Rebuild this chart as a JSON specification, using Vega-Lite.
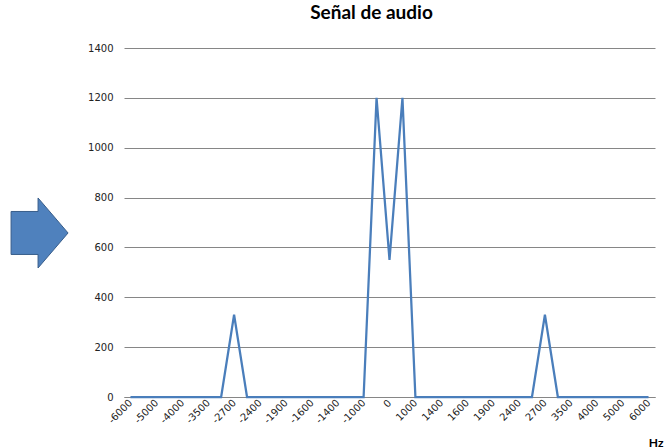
{
  "$schema": "https://vega.github.io/schema/vega-lite/v6.json",
  "width": 531,
  "height": 349,
  "autosize": {"type": "none"},
  "padding": {"left": 124, "top": 48, "right": 11, "bottom": 51},
  "background": "white",
  "config": {"view": {"stroke": null}},
  "title": {
    "text": "Señal de audio",
    "font": "Lato",
    "fontSize": 19,
    "fontWeight": "bold",
    "color": "#000000",
    "anchor": "middle",
    "dx": -18,
    "offset": 20
  },
  "datasets": {
    "signal": [
      {"i": 0, "amp": 0}, {"i": 1, "amp": 0}, {"i": 2, "amp": 0}, {"i": 3, "amp": 0},
      {"i": 4, "amp": 0}, {"i": 5, "amp": 0}, {"i": 6, "amp": 0}, {"i": 7, "amp": 0},
      {"i": 8, "amp": 330}, {"i": 9, "amp": 0}, {"i": 10, "amp": 0}, {"i": 11, "amp": 0},
      {"i": 12, "amp": 0}, {"i": 13, "amp": 0}, {"i": 14, "amp": 0}, {"i": 15, "amp": 0},
      {"i": 16, "amp": 0}, {"i": 17, "amp": 0}, {"i": 18, "amp": 0}, {"i": 19, "amp": 1200},
      {"i": 20, "amp": 550}, {"i": 21, "amp": 1200}, {"i": 22, "amp": 0}, {"i": 23, "amp": 0},
      {"i": 24, "amp": 0}, {"i": 25, "amp": 0}, {"i": 26, "amp": 0}, {"i": 27, "amp": 0},
      {"i": 28, "amp": 0}, {"i": 29, "amp": 0}, {"i": 30, "amp": 0}, {"i": 31, "amp": 0},
      {"i": 32, "amp": 330}, {"i": 33, "amp": 0}, {"i": 34, "amp": 0}, {"i": 35, "amp": 0},
      {"i": 36, "amp": 0}, {"i": 37, "amp": 0}, {"i": 38, "amp": 0}, {"i": 39, "amp": 0},
      {"i": 40, "amp": 0}
    ],
    "arrow": [{"i": -7.02, "amp": 658}]
  },
  "layer": [
    {
      "data": {"name": "signal"},
      "mark": {"type": "line", "color": "#4A7EBB", "strokeWidth": 2.25, "clip": false},
      "encoding": {
        "x": {
          "field": "i",
          "type": "quantitative",
          "scale": {"domain": [-0.5, 40.5], "nice": false, "zero": false},
          "axis": {
            "values": [0, 2, 4, 6, 8, 10, 12, 14, 16, 18, 20, 22, 24, 26, 28, 30, 32, 34, 36, 38, 40],
            "tickCount": 60,
            "labelExpr": "['-6000','-5000','-4000','-3500','-2700','-2400','-1900','-1600','-1400','-1000','0','1000','1400','1600','1900','2400','2700','3500','4000','5000','6000'][round(datum.value/2)]",
            "labelAngle": -45,
            "labelAlign": "right",
            "labelBaseline": "middle",
            "labelFont": "DejaVu Sans",
            "labelFontSize": 10,
            "labelColor": "#222222",
            "labelPadding": 4,
            "labelOverlap": false,
            "labelBound": false,
            "labelFlush": false,
            "grid": false,
            "ticks": false,
            "domain": true,
            "domainColor": "#868686",
            "domainWidth": 1,
            "title": "Hz",
            "titleFont": "Lato",
            "titleFontSize": 12,
            "titleFontWeight": "bold",
            "titleColor": "#000000",
            "titleAngle": 0,
            "titleAlign": "right",
            "titleBaseline": "alphabetic",
            "titleX": 539,
            "titleY": 49
          }
        },
        "y": {
          "field": "amp",
          "type": "quantitative",
          "scale": {"domain": [0, 1400], "nice": false},
          "axis": {
            "values": [0, 200, 400, 600, 800, 1000, 1200, 1400],
            "tickCount": 20,
            "format": "d",
            "labelFont": "DejaVu Sans",
            "labelFontSize": 10,
            "labelColor": "#222222",
            "labelPadding": 11,
            "ticks": false,
            "domain": false,
            "grid": true,
            "gridColor": "#868686",
            "gridWidth": 1,
            "gridOpacity": 1,
            "title": null
          }
        }
      }
    },
    {
      "data": {"name": "arrow"},
      "mark": {
        "type": "point",
        "shape": "M-0.814,-0.614 L-0.043,-0.614 L-0.043,-1 L0.814,0 L-0.043,1 L-0.043,0.614 L-0.814,0.614 Z",
        "filled": true,
        "fill": "#4F81BD",
        "stroke": "#385D8A",
        "strokeWidth": 1,
        "opacity": 1,
        "size": 4900,
        "clip": false
      },
      "encoding": {
        "x": {"field": "i", "type": "quantitative"},
        "y": {"field": "amp", "type": "quantitative"}
      }
    }
  ]
}
